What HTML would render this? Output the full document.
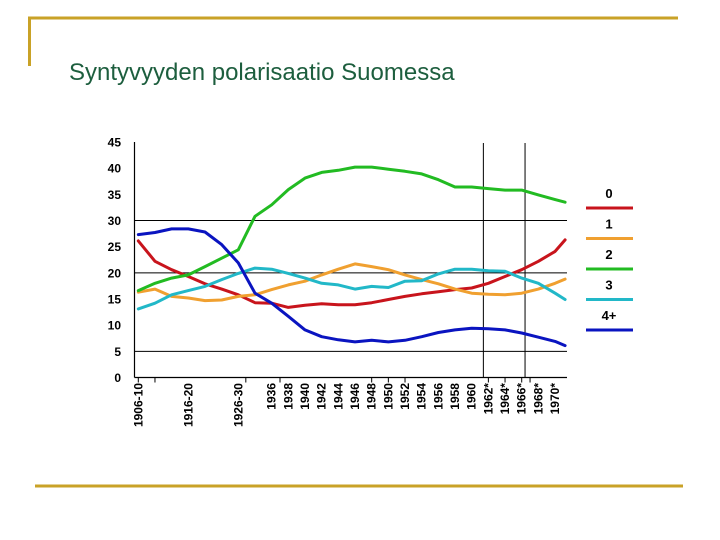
<!DOCTYPE html>
<html><head><meta charset="utf-8"><style>
body{margin:0;background:#fff;}
svg{display:block;font-family:"Liberation Sans",Arial,sans-serif;}
</style></head><body>
<svg id="chart" width="720" height="540" viewBox="0 0 720 540">
<line x1="28" y1="18" x2="678" y2="18" stroke="#c9a227" stroke-width="3"/>
<line x1="29.5" y1="17" x2="29.5" y2="66" stroke="#c9a227" stroke-width="3"/>
<line x1="35" y1="486" x2="683" y2="486" stroke="#c9a227" stroke-width="3"/>
<text x="69" y="80" font-size="24" fill="#1d5e3e">Syntyvyyden polarisaatio Suomessa</text>
<g id="plot"></g>
<g id="legend"></g>
</svg>
<script>
const slots=[0,1,2,3,4,5,6,7,8,9,10,11,12,13,14,15,16,17,18,19,20,21,22,23,24,25,25.6];
const s0=[26.1,22.2,20.6,19.3,17.9,16.9,15.8,14.3,14.2,13.4,13.8,14.1,13.9,13.9,14.3,14.9,15.5,16,16.4,16.8,17.1,18,19.3,20.6,22.2,24.1,26.3];
const s1=[16.3,16.9,15.5,15.2,14.7,14.8,15.5,15.8,16.8,17.7,18.4,19.6,20.7,21.7,21.2,20.6,19.6,18.7,17.9,16.9,16.1,15.9,15.8,16.1,16.9,18,18.8];
const s2=[16.6,18,19,19.6,21.2,22.8,24.4,30.8,33,35.9,38.1,39.2,39.6,40.2,40.2,39.8,39.4,38.9,37.8,36.4,36.4,36.1,35.8,35.8,34.9,34,33.5];
const s3=[13.1,14.2,15.8,16.6,17.4,18.7,19.9,20.9,20.7,19.9,19,18,17.7,16.9,17.4,17.2,18.4,18.5,19.8,20.7,20.7,20.4,20.3,19,18,16.1,14.9];
const s4=[27.3,27.7,28.4,28.4,27.8,25.4,21.9,16.1,14.2,11.7,9.1,7.8,7.2,6.8,7.1,6.8,7.1,7.8,8.6,9.1,9.4,9.3,9.1,8.5,7.7,6.9,6.1];
const seriesNames=["0","1","2","3","4+"];
const seriesColors=["#c8141c","#f0a030","#22bb22","#22b8c8","#0a14c0"];
const yTicks=[0,5,10,15,20,25,30,35,40,45];
const gridVals=[5,20,30];
const tickLabels=["1906-10","1916-20","1926-30","1936","1938","1940","1942","1944","1946","1948","1950","1952","1954","1956","1958","1960","1962*","1964*","1966*","1968*","1970*"];
const tickSlots=[0,3,6,8,9,10,11,12,13,14,15,16,17,18,19,20,21,22,23,24,25];
const vlineSlots=[20.7,23.2];
const NS="http://www.w3.org/2000/svg";
const X0=134.5,X1=567,Y0=377.5,Y45=142;
function xs(s){return 138.3+16.67*s;}
function ys(v){return Y0-(Y0-Y45)*v/45;}
function mk(tag,attrs,parent){const e=document.createElementNS(NS,tag);for(const k in attrs)e.setAttribute(k,attrs[k]);parent.appendChild(e);return e;}
const plot=document.getElementById('plot');
gridVals.forEach(v=>{const l=mk('line',{x1:X0,x2:X1,y1:ys(v),y2:ys(v),stroke:'#000','stroke-width':1},plot);

});
vlineSlots.forEach((s,i)=>{const l=mk('line',{x1:xs(s),x2:xs(s),y1:Y45+1,y2:Y0,stroke:'#000','stroke-width':1},plot);

});
let ax=mk('line',{x1:X0,x2:X0,y1:Y45,y2:Y0,stroke:'#000','stroke-width':1.2},plot);


ax=mk('line',{x1:X0,x2:X1,y1:Y0,y2:Y0,stroke:'#000','stroke-width':1.2},plot);


yTicks.forEach(v=>{const t=mk('text',{x:121,y:ys(v)+4.5,'font-size':12,'font-weight':'bold','text-anchor':'end',fill:'#000'},plot);t.textContent=v;

});
const tickMarks=[0,1.05,3,6.45,8.5,20,22,24,23,24.5];
[0,1,6.45,8.5,14,15,16,21,22,23,23.5].forEach(s=>{const t=mk('line',{x1:xs(s),x2:xs(s),y1:Y0,y2:Y0+5,stroke:'#000'},plot);

});
tickLabels.forEach((lab,i)=>{const x=xs(tickSlots[i])+4;const t=mk('text',{x:x,y:383,'font-size':12,'font-weight':'bold','text-anchor':'end',fill:'#000',transform:`rotate(-90 ${x} 383)`,'font-family':'Liberation Sans Narrow, Liberation Sans, sans-serif'},plot);t.textContent=lab;

});
[s0,s1,s2,s3,s4].forEach((arr,k)=>{const d=arr.map((v,i)=>(i?'L':'M')+xs(slots[i]).toFixed(1)+' '+ys(v).toFixed(1)).join(' ');
const p=mk('path',{d:d,fill:'none',stroke:seriesColors[k],'stroke-width':3,'stroke-linejoin':'round','stroke-linecap':'round'},plot);

});
const lg=document.getElementById('legend');
seriesNames.forEach((n,k)=>{const y=198+30.5*k;const t=mk('text',{x:609,y:y,'font-size':13,'font-weight':'bold','text-anchor':'middle',fill:'#000'},lg);t.textContent=n;


const l=mk('line',{x1:586,x2:633,y1:y+10,y2:y+10,stroke:seriesColors[k],'stroke-width':3},lg);

});
</script>
</body></html>
